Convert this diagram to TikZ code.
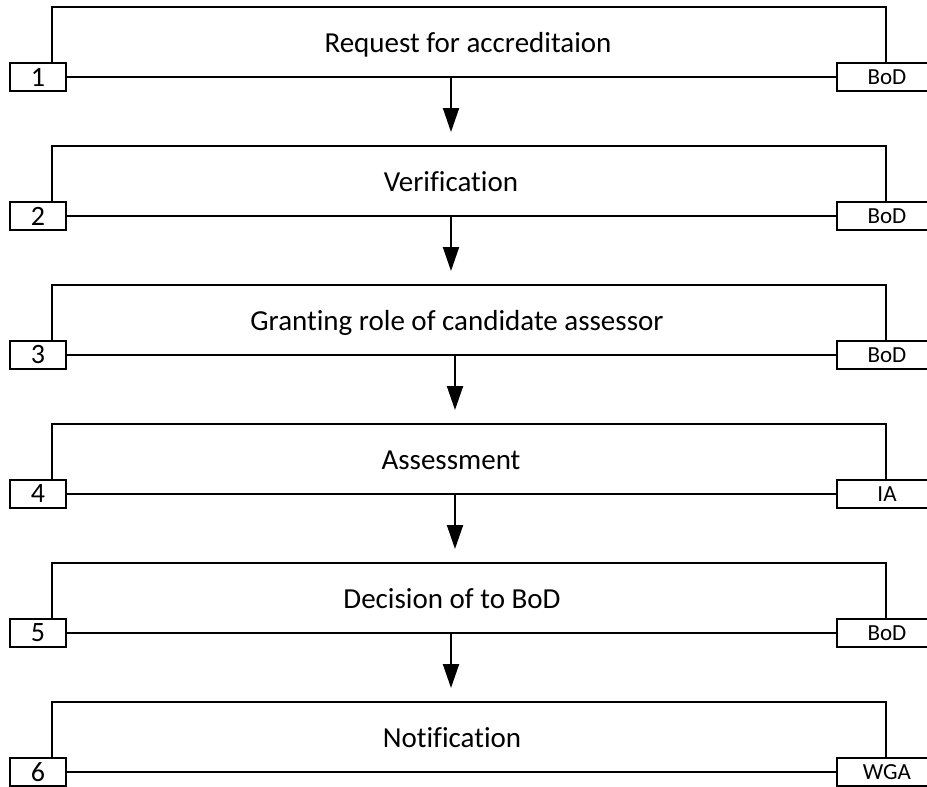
\documentclass[tikz,border=0pt]{standalone}
\usepackage{fontspec}
\setmainfont{Carlito}[Ligatures={NoCommon}]
\usetikzlibrary{arrows.meta}
\begin{document}
\begin{tikzpicture}[x=1pt,y=-1pt,
  frame/.style={line width=2pt},
  tagbox/.style={draw,line width=2pt,minimum height=28pt,inner sep=0pt},
  numbox/.style={tagbox,minimum width=56pt,font=\fontsize{28}{30}\selectfont},
  rolebox/.style={tagbox,minimum width=100pt,font=\fontsize{23}{25}\selectfont},
  stagetitle/.style={font=\fontsize{29}{32}\selectfont,inner sep=0pt,anchor=base},
  flow/.style={line width=2pt,-{Triangle[length=24pt,width=16pt]}}]
\clip (0,0) rectangle (927,787);
\foreach \i/\txt/\role/\tx/\ax in {
    1/Request for accreditaion/BoD/468/451,
    2/Verification/BoD/451/451,
    3/Granting role of candidate assessor/BoD/457/455,
    4/Assessment/IA/451/455,
    5/Decision of to BoD/BoD/452/451,
    6/Notification/WGA/452/451} {
  \pgfmathsetmacro\yb{77+139*(\i-1)}
  % tag boxes sitting on the bottom edge of the stage frame
  \node[numbox] (num\i) at (38,\yb) {\i};
  \node[rolebox] (role\i) at (887,\yb) {\role};
  \node[stagetitle] (title\i) at (\tx,\yb-25) {\txt};
  % open frame of the stage
  \coordinate (tl\i) at (52,\yb-70);
  \coordinate (tr\i) at (886,\yb-70);
  \draw[frame] (num\i.north -| tl\i) -- (tl\i) -- (tr\i) -- (role\i.north -| tr\i);
  \draw[frame] (num\i.east) -- (role\i.west);
  % arrow to the next stage
  \ifnum\i<6
    \coordinate (out\i) at (\ax,\yb);
    \coordinate (in\i) at (\ax,\yb+55);
    \draw[flow] (out\i) -- (in\i);
  \fi
}
\end{tikzpicture}
\end{document}
